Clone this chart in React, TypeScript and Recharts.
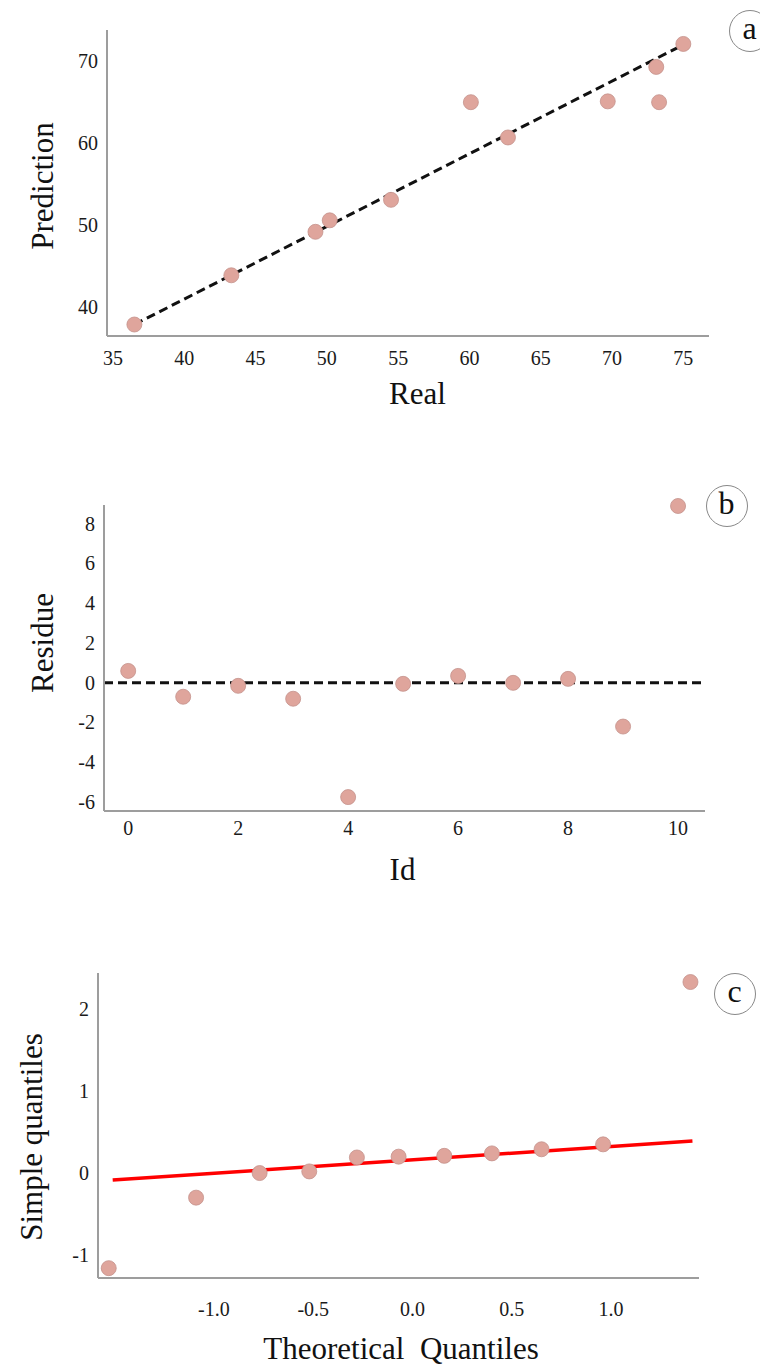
import { ComposedChart, Scatter, Line, XAxis, YAxis, ReferenceLine } from "recharts";

// (a) prediction vs real
const realA = [36.5, 43.3, 49.2, 50.2, 54.5, 60.1, 62.7, 69.7, 73.1, 73.3, 75.0];
const predA = [37.9, 43.9, 49.2, 50.6, 53.1, 65.0, 60.7, 65.1, 69.3, 65.0, 72.1];
const fitRealA = [36.5, 75.0];
const fitPredA = [37.9, 72.0];
const xTicksA = [35, 40, 45, 50, 55, 60, 65, 70, 75];
const yTicksA = [40, 50, 60, 70];

// (b) residue by id
const idsB = [0, 1, 2, 3, 4, 5, 6, 7, 8, 9, 10];
const residB = [0.6, -0.7, -0.15, -0.8, -5.75, -0.05, 0.35, 0.0, 0.2, -2.2, 8.9];
const xTicksB = [0, 2, 4, 6, 8, 10];
const yTicksB = [-6, -4, -2, 0, 2, 4, 6, 8];

// (c) QQ plot
const theoC = [-1.53, -1.09, -0.77, -0.52, -0.28, -0.07, 0.16, 0.4, 0.65, 0.96, 1.4];
const sampleC = [-1.16, -0.3, 0.0, 0.02, 0.19, 0.2, 0.21, 0.24, 0.29, 0.35, 2.33];
const fitTheoC = [-1.51, 1.41];
const fitSampleC = [-0.085, 0.39];
const xTicksC = [-1, -0.5, 0, 0.5, 1];
const yTicksC = [-1, 0, 1, 2];

const pts = (xs: number[], ys: number[]) => xs.map((x, i) => ({ x, y: ys[i] }));

const FONT = '"Liberation Serif", "DejaVu Serif", serif';
const axisStyle = { stroke: "#9d9d9d", strokeWidth: 2 };

// tick text drawn by hand so the serif font / size stick
const makeTick = (side: "left" | "bottom", fmt?: (v: number) => string) => (p: any) => (
  <text
    x={p.x}
    y={p.y}
    textAnchor={side === "left" ? "end" : "middle"}
    dy={side === "left" ? "0.34em" : "0.72em"}
    fontFamily={FONT}
    fontSize={20}
    fill="#1a1a1a"
  >
    {fmt ? fmt(p.payload.value) : p.payload.value}
  </text>
);

const Dot = (p: any) => (
  <circle cx={p.cx} cy={p.cy} r={7.5} fill="#dfa59c" stroke="#c4928b" strokeWidth={0.8} />
);

const Title = ({ x, y, text, rotate }: { x: number; y: number; text: string; rotate?: boolean }) => (
  <div
    style={{
      position: "absolute",
      left: x,
      top: y,
      transform: `translate(-50%, -50%)${rotate ? " rotate(-90deg)" : ""}`,
      fontFamily: FONT,
      fontSize: 31,
      lineHeight: 1,
      whiteSpace: "pre",
      color: "#111",
    }}
  >
    {text}
  </div>
);

const Badge = ({ x, y, text }: { x: number; y: number; text: string }) => (
  <div
    style={{
      position: "absolute",
      left: x - 20.5,
      top: y - 20.5,
      width: 40,
      height: 40,
      border: "1px solid #888",
      borderRadius: "50%",
      display: "flex",
      alignItems: "center",
      justifyContent: "center",
      fontFamily: FONT,
      fontSize: 32,
      lineHeight: 1,
      color: "#111",
      background: "#fff",
    }}
  >
    <span style={{ marginTop: -6 }}>{text}</span>
  </div>
);

export default function App() {
  const dataA = pts(realA, predA);
  const fitA = pts(fitRealA, fitPredA);
  const dataB = pts(idsB, residB);
  const dataC = pts(theoC, sampleC);
  const fitC = pts(fitTheoC, fitSampleC);

  return (
    <div
      style={{
        position: "absolute",
        left: 0,
        top: 0,
        width: 760,
        height: 1371,
        overflow: "hidden",
        background: "#fff",
      }}
    >
      {/* panel a */}
      <div style={{ position: "absolute", left: 0, top: 0 }}>
        <ComposedChart width={760} height={420} margin={{ top: 30, right: 51, left: 47, bottom: 44 }}>
          <XAxis
            type="number"
            dataKey="x"
            domain={[34.58, 76.8]}
            ticks={xTicksA}
            tick={makeTick("bottom")}
            tickLine={false}
            axisLine={axisStyle}
            tickMargin={9}
            height={40}
          />
          <YAxis
            type="number"
            dataKey="y"
            domain={[36.5, 73.8]}
            ticks={yTicksA}
            tick={makeTick("left")}
            tickLine={false}
            axisLine={axisStyle}
            tickMargin={3}
            width={60}
          />
          <Line
            data={fitA}
            dataKey="y"
            stroke="#111"
            strokeWidth={3}
            strokeDasharray="9 5"
            dot={false}
            isAnimationActive={false}
          />
          <Scatter data={dataA} dataKey="y" shape={Dot} isAnimationActive={false} />
        </ComposedChart>
      </div>
      <Title x={41.5} y={185.5} text="Prediction" rotate />
      <Title x={417.5} y={392.5} text="Real" />
      <Badge x={749} y={30} text="a" />

      {/* panel b */}
      <div style={{ position: "absolute", left: 0, top: 460 }}>
        <ComposedChart width={760} height={440} margin={{ top: 45, right: 55, left: 44, bottom: 49 }}>
          <XAxis
            type="number"
            dataKey="x"
            domain={[-0.44, 10.49]}
            ticks={xTicksB}
            tick={makeTick("bottom")}
            tickLine={false}
            axisLine={axisStyle}
            tickMargin={4}
            height={40}
          />
          <YAxis
            type="number"
            dataKey="y"
            domain={[-6.45, 8.95]}
            ticks={yTicksB}
            tick={makeTick("left")}
            tickLine={false}
            axisLine={axisStyle}
            tickMargin={3}
            width={60}
          />
          <Scatter data={dataB} dataKey="y" shape={Dot} isAnimationActive={false} />
          <ReferenceLine y={0} stroke="#111" strokeWidth={3} strokeDasharray="9 5" />
        </ComposedChart>
      </div>
      <Title x={41.5} y={643} text="Residue" rotate />
      <Title x={402.5} y={869} text="Id" />
      <Badge x={726} y={505} text="b" />

      {/* panel c */}
      <div style={{ position: "absolute", left: 0, top: 940 }}>
        <ComposedChart width={760} height={431} margin={{ top: 33, right: 61, left: 38, bottom: 53 }}>
          <XAxis
            type="number"
            dataKey="x"
            domain={[-1.584, 1.443]}
            ticks={xTicksC}
            tick={makeTick("bottom", (v) => v.toFixed(1))}
            tickLine={false}
            axisLine={axisStyle}
            tickMargin={18}
            height={40}
          />
          <YAxis
            type="number"
            dataKey="y"
            domain={[-1.28, 2.44]}
            ticks={yTicksC}
            tick={makeTick("left")}
            tickLine={false}
            axisLine={axisStyle}
            tickMargin={3}
            width={60}
          />
          <Scatter data={dataC} dataKey="y" shape={Dot} isAnimationActive={false} />
          <Line
            data={fitC}
            dataKey="y"
            stroke="#ff0000"
            strokeWidth={3.5}
            dot={false}
            isAnimationActive={false}
          />
        </ComposedChart>
      </div>
      <Title x={30.5} y={1137} text="Simple quantiles" rotate />
      <Title x={401} y={1348} text="Theoretical  Quantiles" />
      <Badge x={734} y={993} text="c" />
    </div>
  );
}
